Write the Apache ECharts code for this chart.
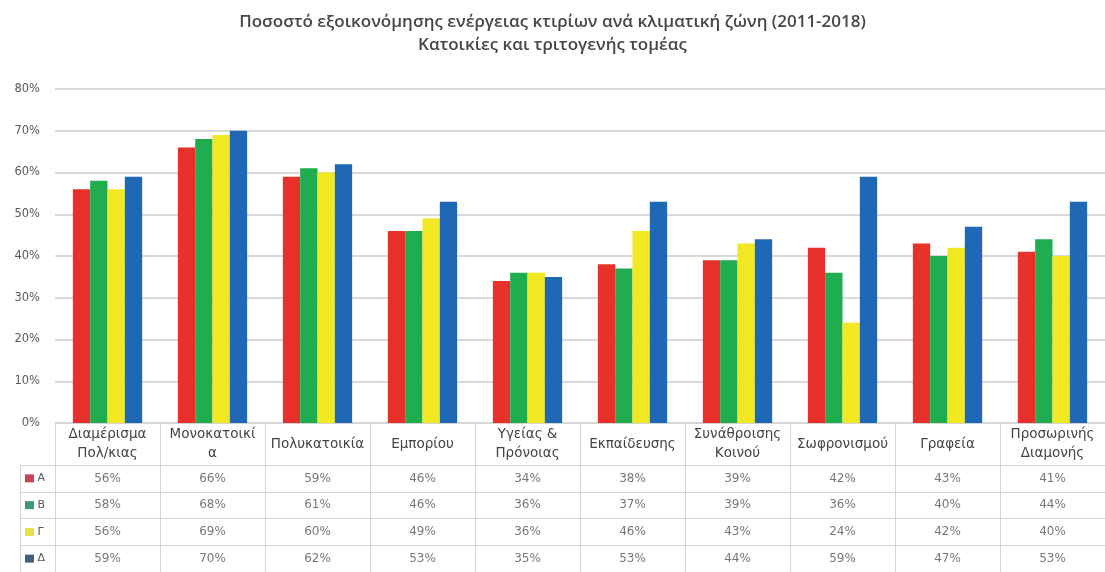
<!DOCTYPE html>
<html>
<head>
<meta charset="utf-8">
<script src="https://cdn.jsdelivr.net/npm/echarts@6/dist/echarts.min.js"></script>
<style>
  html, body { margin: 0; padding: 0; background: #fff; }
  #chart { width: 1105px; height: 572px; }
</style>
</head>
<body>
<div id="chart"></div>
<script>
// building categories (header row of the table)
const categories = [
  "Διαμέρισμα\nΠολ/κιας", "Μονοκατοικί\nα", "Πολυκατοικία", "Εμπορίου",
  "Υγείας &\nΠρόνοιας", "Εκπαίδευσης", "Συνάθροισης\nΚοινού",
  "Σωφρονισμού", "Γραφεία", "Προσωρινής\nΔιαμονής"
];
// climate zones
const zones = ["Α", "Β", "Γ", "Δ"];
const zoneA = [56, 66, 59, 46, 34, 38, 39, 42, 43, 41];
const zoneB = [58, 68, 61, 46, 36, 37, 39, 36, 40, 44];
const zoneG = [56, 69, 60, 49, 36, 46, 43, 24, 42, 40];
const zoneD = [59, 70, 62, 53, 35, 53, 44, 59, 47, 53];
const yMin = 0, yMax = 80, yStep = 10;

const barColors = ["#e8312b", "#1fad4f", "#f1e723", "#1f68b5"];
const keyColors = ["#d2405a", "#3a9e72", "#e4e04a", "#43607a"];
const seriesData = [zoneA, zoneB, zoneG, zoneD];

const lineColor = "#d4d4d4";
const textFont = "DejaVu Sans";

// table cells: [category index, zone index, value]
const cells = [];
seriesData.forEach((vals, r) => {
  vals.forEach((v, i) => cells.push([i, r, v]));
});

const chart = echarts.init(document.getElementById("chart"));

const keyRich = {};
zones.forEach((z, i) => {
  keyRich["k" + i] = { backgroundColor: keyColors[i], width: 9, height: 8 };
});

const option = {
  animation: false,
  title: {
    text: "Ποσοστό εξοικονόμησης ενέργειας κτιρίων ανά κλιματική ζώνη (2011-2018)\nΚατοικίες και τριτογενής τομέας",
    left: "center",
    top: 6,
    textStyle: {
      fontFamily: "Open Sans",
      fontSize: 17,
      fontWeight: 600,
      color: "#474747",
      lineHeight: 23,
    },
  },
  grid: [
    { left: 55, right: -7, top: 89, height: 334 },
    { left: 55, right: -7, top: 465, height: 110 },
  ],
  xAxis: [
    {
      type: "category",
      gridIndex: 0,
      data: categories,
      axisLine: { lineStyle: { color: lineColor, width: 1 } },
      axisTick: { show: true, length: 42, alignWithLabel: false, lineStyle: { color: lineColor } },
      axisLabel: {
        interval: 0,
        margin: 21,
        verticalAlign: "middle",
        fontFamily: textFont,
        fontSize: 13.5,
        lineHeight: 19,
        color: "#444",
      },
    },
    {
      type: "category",
      gridIndex: 1,
      data: categories,
      axisLine: { show: false },
      axisTick: { show: false },
      axisLabel: { show: false },
      splitLine: { show: true, lineStyle: { color: lineColor } },
    },
  ],
  yAxis: [
    {
      type: "value",
      gridIndex: 0,
      min: yMin,
      max: yMax,
      interval: yStep,
      axisLine: { show: false },
      axisTick: { show: false },
      axisLabel: {
        formatter: "{value}%",
        margin: 15,
        fontFamily: textFont,
        fontSize: 11.5,
        color: "#595959",
      },
      splitLine: { lineStyle: { color: "#cccccc", width: 1.5 } },
    },
    {
      type: "category",
      gridIndex: 1,
      data: zones,
      inverse: true,
      axisLine: { show: false },
      axisTick: { show: true, length: 35, lineStyle: { color: lineColor } },
      axisLabel: {
        align: "left",
        margin: 30,
        fontFamily: textFont,
        fontSize: 11,
        color: "#555",
        formatter: (val, idx) => "{k" + idx + "|} " + val,
        rich: keyRich,
      },
      splitLine: { show: true, lineStyle: { color: lineColor } },
    },
    {
      type: "category",
      gridIndex: 1,
      data: zones,
      position: "left",
      offset: 35,
      axisLine: { show: true, lineStyle: { color: lineColor } },
      axisTick: { show: false },
      axisLabel: { show: false },
    },
  ],
  series: zones.map((z, i) => ({
    name: z,
    type: "bar",
    xAxisIndex: 0,
    yAxisIndex: 0,
    data: seriesData[i],
    barGap: "0%",
    barCategoryGap: "34%",
    itemStyle: { color: barColors[i] },
  })).concat([
    {
      name: "table",
      type: "scatter",
      xAxisIndex: 1,
      yAxisIndex: 1,
      symbolSize: 1,
      itemStyle: { color: "rgba(0,0,0,0)" },
      data: cells,
      label: {
        show: true,
        position: "inside",
        formatter: (p) => p.value[2] + "%",
        fontFamily: textFont,
        fontSize: 12,
        color: "#555",
      },
    },
  ]),
};

chart.setOption(option);
</script>
</body>
</html>
